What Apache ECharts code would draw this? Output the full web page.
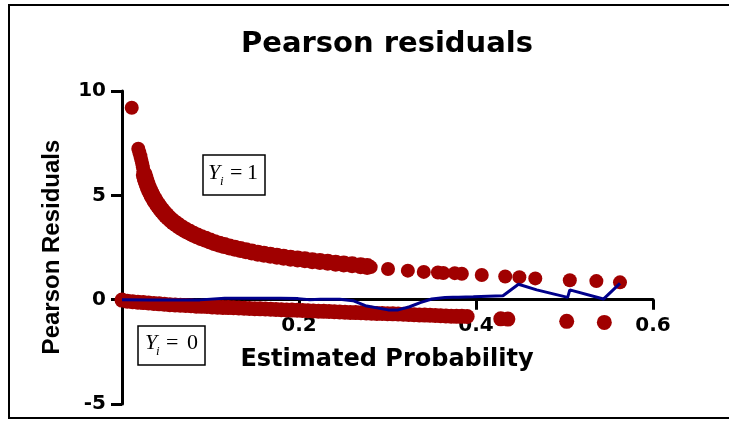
<!DOCTYPE html>
<html>
<head>
<meta charset="utf-8">
<script src="https://cdn.jsdelivr.net/npm/echarts@6/dist/echarts.min.js"></script>
<style>html,body{margin:0;padding:0;background:#fff;}#c{width:729px;height:421px;}</style>
</head>
<body>
<div id="c"></div>
<script>
// ---- data ----
const xTicks = [0, 0.2, 0.4, 0.6];
const yTicks = [-5, 0, 5, 10];

// Y_i = 1 residuals: steep start, dense band, then isolated points
const upperSteepP = [0.0110,0.0184,0.0196,0.0208,0.0218,0.0228,0.0236,0.0244];
const upperSteepR = [9.20,7.23,7.05,6.88,6.70,6.52,6.35,6.15];
const upperBandP = [0.0252,0.0262,0.0274,0.0286,0.0298,0.0312,0.0326,0.0340,0.0356,0.0372,0.0390,0.0410,0.0430,0.0452,0.0476,0.0500,0.0526,0.0554,0.0584,0.0616,0.0650,0.0686,0.0724,0.0764,0.0806,0.0850,0.0896,0.0944,0.0994,0.1046,0.1100,0.1156,0.1214,0.1274,0.1336,0.1400,0.1466,0.1534,0.1604,0.1676,0.1750,0.1826,0.1904,0.1984,0.2066,0.2150,0.2236,0.2324,0.2414,0.2506,0.2600,0.2696,0.2770];
const upperBandR = [5.98,5.82,5.66,5.52,5.38,5.24,5.11,4.99,4.87,4.75,4.63,4.51,4.39,4.27,4.15,4.04,3.93,3.82,3.71,3.61,3.51,3.41,3.32,3.23,3.14,3.05,2.97,2.89,2.81,2.73,2.66,2.59,2.52,2.46,2.40,2.34,2.28,2.23,2.18,2.13,2.08,2.03,1.99,1.95,1.91,1.87,1.83,1.79,1.75,1.71,1.67,1.63,1.59];
const upperSparseP = [0.2810,0.3006,0.323,0.341,0.357,0.363,0.376,0.384,0.4065,0.433,0.449,0.467,0.506,0.536,0.5627];
const upperSparseR = [1.56,1.47,1.39,1.33,1.30,1.28,1.27,1.24,1.18,1.11,1.08,1.02,0.93,0.89,0.83];

// Y_i = 0 residuals
const lowerP = [0.000,0.006,0.012,0.018,0.024,0.030,0.036,0.042,0.048,0.054,0.060,0.066,0.072,0.078,0.084,0.090,0.096,0.102,0.108,0.114,0.120,0.126,0.132,0.138,0.144,0.150,0.156,0.162,0.168,0.174,0.180,0.186,0.192,0.198,0.204,0.210,0.216,0.222,0.228,0.234,0.240,0.246,0.252,0.258,0.264,0.270,0.276,0.282,0.288,0.294,0.300,0.306,0.312,0.318,0.324,0.330,0.336,0.342,0.348,0.354,0.360,0.366,0.372,0.378,0.384,0.390,
  0.428,0.436,0.5025,0.545];
const lowerR = [-0.02,-0.07,-0.10,-0.12,-0.14,-0.16,-0.18,-0.20,-0.22,-0.24,-0.25,-0.27,-0.28,-0.29,-0.31,-0.32,-0.33,-0.35,-0.36,-0.37,-0.38,-0.39,-0.40,-0.41,-0.42,-0.43,-0.44,-0.45,-0.46,-0.47,-0.48,-0.49,-0.50,-0.51,-0.52,-0.53,-0.54,-0.55,-0.56,-0.57,-0.58,-0.59,-0.60,-0.61,-0.62,-0.63,-0.64,-0.65,-0.66,-0.66,-0.67,-0.68,-0.69,-0.70,-0.71,-0.72,-0.73,-0.74,-0.75,-0.76,-0.77,-0.78,-0.79,-0.80,-0.80,-0.81,
  -0.92,-0.93,-1.04,-1.09];

// smoothed residual line
const smoothP = [0.000,0.032,0.088,0.116,0.156,0.179,0.199,0.212,0.224,0.246,0.261,0.275,0.3006,0.312,0.325,0.337,0.350,0.365,0.374,0.376,0.380,0.397,0.4305,0.448,0.4686,0.5036,0.506,0.544,0.5627];
const smoothR = [0.00,-0.02,-0.01,0.07,0.07,0.07,0.05,0.00,0.02,0.02,-0.05,-0.29,-0.49,-0.49,-0.34,-0.14,0.03,0.10,0.12,0.19,0.12,0.14,0.19,0.74,0.47,0.11,0.47,0.03,0.78];

const RED = '#a00000';
const NAVY = '#00008b';

const zip = (a, b) => a.map((v, i) => [v, b[i]]);

const W = 729, H = 421;
const G = {left: 122, right: 76, top: 91, bottom: 17};
const yMin = yTicks[0], yMax = yTicks[yTicks.length - 1];
const gridH = H - G.top - G.bottom;
// move the x axis (line, ticks, labels) up to y = 0
const xOffset = -((0 - yMin) / (yMax - yMin)) * gridH;

const dots = (data, size) => ({type: 'scatter', data, symbol: 'circle', symbolSize: size, itemStyle: {color: RED, opacity: 1}, z: 2});

const chart = echarts.init(document.getElementById('c'), null, {renderer: 'canvas', width: W, height: H});
chart.setOption({
  animation: false,
  backgroundColor: '#ffffff',
  grid: {left: G.left, right: G.right, top: G.top, bottom: G.bottom, containLabel: false, outerBoundsMode: 'none'},
  xAxis: {
    type: 'value', min: xTicks[0], max: xTicks[xTicks.length - 1], interval: 0.2,
    position: 'bottom', offset: xOffset,
    axisLine: {onZero: false, lineStyle: {color: '#000', width: 3}},
    axisTick: {show: true, length: 10, lineStyle: {color: '#000', width: 3}},
    axisLabel: {
      margin: 16, color: '#000', fontFamily: 'DejaVu Sans', fontWeight: 'bold', fontSize: 20,
      formatter: v => (v === 0 ? '' : v.toFixed(1))
    },
    splitLine: {show: false}
  },
  yAxis: {
    type: 'value', min: yMin, max: yMax, interval: 5,
    axisLine: {show: true, lineStyle: {color: '#000', width: 3}},
    axisTick: {show: true, length: 11, lineStyle: {color: '#000', width: 3}},
    axisLabel: {margin: 16, color: '#000', fontFamily: 'DejaVu Sans', fontWeight: 'bold', fontSize: 20},
    splitLine: {show: false}
  },
  series: [
    dots(zip(lowerP, lowerR), 15),
    dots(zip(upperSteepP, upperSteepR), 14),
    dots(zip(upperBandP, upperBandR), 17),
    dots(zip(upperSparseP, upperSparseR), 14),
    {type: 'line', data: zip(smoothP, smoothR), symbol: 'none', lineStyle: {color: NAVY, width: 3}, z: 3}
  ],
  graphic: [
    {type: 'rect', shape: {x: 9, y: 5, width: 900, height: 413}, style: {fill: 'none', stroke: '#000', lineWidth: 2}, silent: true},
    {type: 'text', x: 387, y: 44, style: {text: 'Pearson residuals', fontFamily: 'DejaVu Sans', fontWeight: 'bold', fontSize: 29, fill: '#000', align: 'center', verticalAlign: 'middle'}},
    {type: 'text', x: 387, y: 360, style: {text: 'Estimated Probability', fontFamily: 'DejaVu Sans', fontWeight: 'bold', fontSize: 24, fill: '#000', align: 'center', verticalAlign: 'middle'}},
    {type: 'text', x: 52, y: 247, rotation: Math.PI / 2, style: {text: 'Pearson Residuals', fontFamily: 'Liberation Sans', fontWeight: 'bold', fontSize: 24, fill: '#000', align: 'center', verticalAlign: 'middle'}},
    // Y_i = 1 box
    {type: 'rect', shape: {x: 203, y: 155, width: 62, height: 40}, style: {fill: '#fff', stroke: '#000', lineWidth: 1.5}},
    {type: 'text', x: 208, y: 173.5, style: {text: 'Y', fontFamily: 'Liberation Serif', fontStyle: 'italic', fontSize: 22, fill: '#000', align: 'left', verticalAlign: 'middle'}},
    {type: 'text', x: 220, y: 182, style: {text: 'i', fontFamily: 'Liberation Serif', fontStyle: 'italic', fontSize: 13, fill: '#000', align: 'left', verticalAlign: 'middle'}},
    {type: 'text', x: 230, y: 173.5, style: {text: '=', fontFamily: 'Liberation Serif', fontSize: 22, fill: '#000', align: 'left', verticalAlign: 'middle'}},
    {type: 'text', x: 247, y: 173.5, style: {text: '1', fontFamily: 'Liberation Serif', fontSize: 22, fill: '#000', align: 'left', verticalAlign: 'middle'}},
    // Y_i = 0 box
    {type: 'rect', shape: {x: 138, y: 326, width: 67, height: 39}, style: {fill: '#fff', stroke: '#000', lineWidth: 1.5}},
    {type: 'text', x: 145, y: 343.5, style: {text: 'Y', fontFamily: 'Liberation Serif', fontStyle: 'italic', fontSize: 22, fill: '#000', align: 'left', verticalAlign: 'middle'}},
    {type: 'text', x: 156, y: 352, style: {text: 'i', fontFamily: 'Liberation Serif', fontStyle: 'italic', fontSize: 13, fill: '#000', align: 'left', verticalAlign: 'middle'}},
    {type: 'text', x: 166, y: 343.5, style: {text: '=', fontFamily: 'Liberation Serif', fontSize: 22, fill: '#000', align: 'left', verticalAlign: 'middle'}},
    {type: 'text', x: 187, y: 343.5, style: {text: '0', fontFamily: 'Liberation Serif', fontSize: 22, fill: '#000', align: 'left', verticalAlign: 'middle'}}
  ]
});
</script>
</body>
</html>
